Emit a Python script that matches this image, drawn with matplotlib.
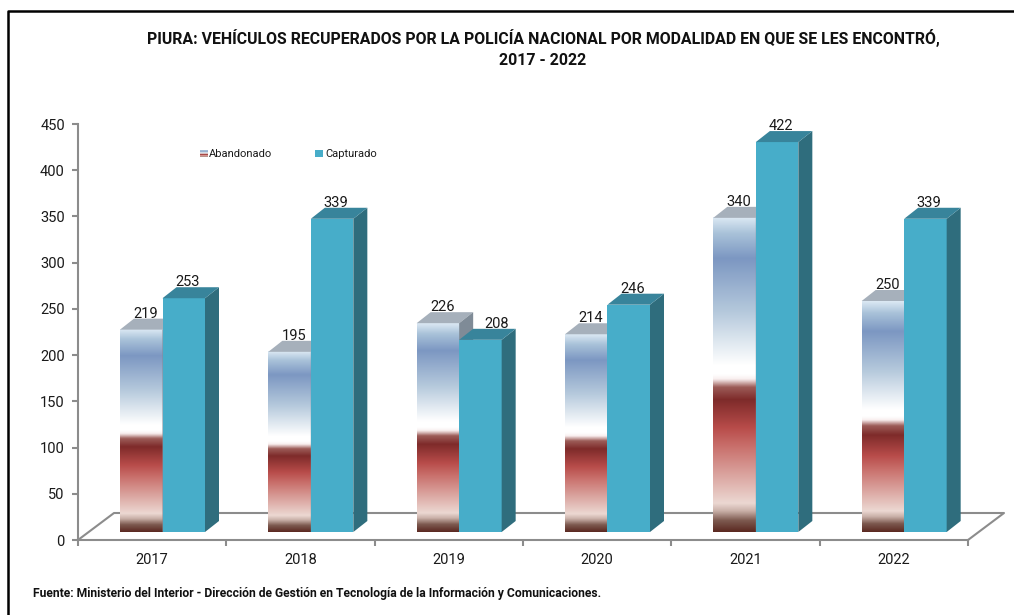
import numpy as np
import matplotlib
matplotlib.use("Agg")
import matplotlib.pyplot as plt
from matplotlib.colors import LinearSegmentedColormap
from matplotlib.lines import Line2D
from matplotlib.patches import Polygon, Rectangle

years = ["2017", "2018", "2019", "2020", "2021", "2022"]
abandonado = [219, 195, 226, 214, 340, 250]
capturado = [253, 339, 208, 246, 422, 339]
y_ticks = [0, 50, 100, 150, 200, 250, 300, 350, 400, 450]

title = ("PIURA: VEHÍCULOS RECUPERADOS POR LA POLICÍA NACIONAL POR MODALIDAD EN QUE SE LES ENCONTRÓ,\n"
         "2017 - 2022")
source = "Fuente: Ministerio del Interior - Dirección de Gestión en Tecnología de la Información y Comunicaciones."

W, H = 1014, 615
plt.rcParams["font.family"] = ["Roboto", "Liberation Sans", "DejaVu Sans"]

# gradient of the Abandonado bars, from bottom to top
grad = LinearSegmentedColormap.from_list("aband", [
    (0.00, "#5c2a22"), (0.035, "#7d5a50"), (0.065, "#c9b0a8"), (0.09, "#ecd8d2"), (0.27, "#c9706c"),
    (0.33, "#b84c4a"), (0.42, "#7e2b2a"), (0.46, "#9c5c58"), (0.485, "#f8eeee"), (0.50, "#ffffff"), (0.53, "#ffffff"),
    (0.70, "#b5c9dc"), (0.87, "#7c97c2"), (0.95, "#a9c2d9"), (1.00, "#dbe8f3"),
])
ramp = np.linspace(1, 0, 256).reshape(-1, 1)

CAP_FRONT = "#47adc9"
CAP_SIDE = "#2f6d7d"
CAP_TOP = "#38849b"
ABA_TOP = "#a6b0bb"
ABA_SIDE = "#7f8b97"
AXIS = "#8c8c8c"
TEXT = "#1a1a1a"


def px_axes(x0, y_top, x1, y_bottom):
    return fig.add_axes([x0 / W, 1 - y_bottom / H, (x1 - x0) / W, (y_bottom - y_top) / H])


fig = plt.figure(figsize=(W / 100, H / 100), dpi=100)

# axis box with the ticks and the floor
frame = px_axes(78, 124, 968, 540)
frame.set_xlim(0, 6)
frame.set_ylim(0, 450)
frame.patch.set_alpha(0)
for side in ["top", "right"]:
    frame.spines[side].set_visible(False)
for side in ["left", "bottom"]:
    frame.spines[side].set_color(AXIS)
    frame.spines[side].set_linewidth(1.5)
frame.set_yticks(y_ticks)
frame.set_xticks(range(7))
frame.set_xticklabels([])
frame.set_xticks(np.arange(6) + 0.5, years, minor=True)
frame.tick_params(axis="x", which="major", length=4, width=1.5, color=AXIS)
frame.tick_params(axis="x", which="minor", length=0, pad=9, labelsize=10.5, labelcolor=TEXT)
frame.tick_params(axis="y", length=4, width=1.5, color=AXIS, labelsize=10.5, labelcolor=TEXT, pad=5.5)

floor_dx = 36 / (890 / 6)
floor_dy = 27 / (416 / 450)
frame.plot([0, floor_dx, 6 + floor_dx, 6], [0, floor_dy, floor_dy, 0], color=AXIS, lw=1.5, clip_on=False)

# front plane of the bars
ax = px_axes(78, 116, 968, 532)
ax.set_axis_off()
px_per_val = 0.924
ax_ylim = 416 / px_per_val
dx = 14 / (890 / 6)
dy = 11 / px_per_val
bar_w = 42.5 / (890 / 6)
start = 42 / (890 / 6)

for i, (a, c) in enumerate(zip(abandonado, capturado)):
    left = i + start
    mid = left + bar_w
    ax.add_patch(Polygon([(left, a), (left + dx, a + dy), (mid + dx, a + dy), (mid, a)], color=ABA_TOP, lw=0))
    ax.add_patch(Polygon([(mid, 0), (mid + dx, dy), (mid + dx, a + dy), (mid, a)], color=ABA_SIDE, lw=0))
    ax.imshow(ramp, cmap=grad, extent=(left, mid, 0, a), aspect="auto", vmin=0, vmax=1, interpolation="bilinear")
    ax.annotate(str(a), (left + bar_w / 2 + dx * 0.32, a + dy), xytext=(0, 3.5), textcoords="offset points",
                ha="center", va="center", fontsize=10.5, color=TEXT, annotation_clip=False, zorder=6)

    ax.add_patch(Rectangle((mid, 0), bar_w, c, color=CAP_FRONT, lw=0, zorder=4))
    right = mid + bar_w
    ax.add_patch(Polygon([(right, 0), (right + dx, dy), (right + dx, c + dy), (right, c)], color=CAP_SIDE, lw=0, zorder=4))
    ax.add_patch(Polygon([(mid, c), (mid + dx, c + dy), (right + dx, c + dy), (right, c)], color=CAP_TOP, lw=0, zorder=4))
    # the label moves aside when the neighbouring bar would run into it
    shift = dx * 1.15 if c < a else dx * 0.27
    ax.annotate(str(c), (mid + bar_w / 2 + shift, c + dy), xytext=(0, 3.5), textcoords="offset points",
                ha="center", va="center", fontsize=10.5, color=TEXT, annotation_clip=False, zorder=6)

ax.set_xlim(0, 6)
ax.set_ylim(0, ax_ylim)

# legend, built by hand because of the gradient key
key = px_axes(200, 150, 208, 157)
key.imshow(ramp, cmap=grad, aspect="auto", vmin=0, vmax=1)
key.set_axis_off()
fig.text(209 / W, 1 - 154 / H, "Abandonado", fontsize=8, ha="left", va="center", color=TEXT)
fig.add_artist(Rectangle((315 / W, 1 - 157 / H), 8 / W, 7 / H, color=CAP_FRONT, lw=0, transform=fig.transFigure))
fig.text(325 / W, 1 - 154 / H, "Capturado", fontsize=8, ha="left", va="center", color=TEXT)

fig.text(543 / W, 1 - 48.5 / H, title, fontsize=11.45, fontweight="bold", ha="center", va="center",
         color="#111111", linespacing=1.5)
fig.text(33 / W, 1 - 594 / H, source, fontsize=8.75, fontweight="bold", ha="left", va="center", color="#111111")

# black border of the picture, open at the right and at the bottom
fig.add_artist(Line2D([8 / W, 8 / W, 1], [0, 1 - 11 / H, 1 - 11 / H], color="black", lw=1.8,
                      transform=fig.transFigure))

fig.savefig("out.png", dpi=100)
